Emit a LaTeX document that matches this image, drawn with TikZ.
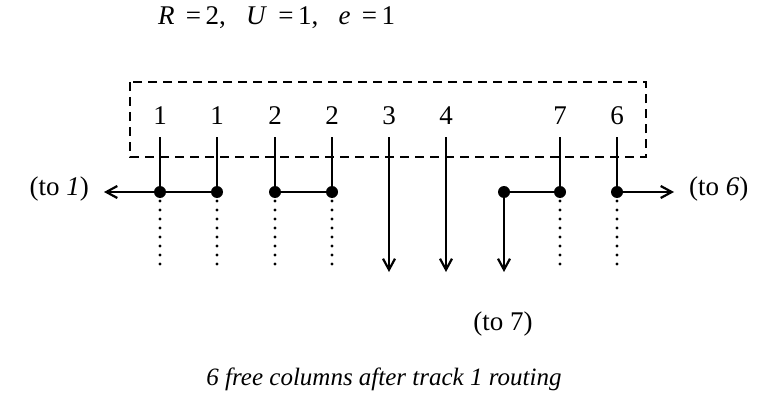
\documentclass[tikz,border=0pt]{standalone}
\usepackage{fontspec}
\setmainfont{Liberation Serif}
\usetikzlibrary{arrows.meta}
\begin{document}
\begin{tikzpicture}[x=1pt,y=-1pt,
  wire/.style={line width=2.6pt},
  feed/.style={line width=2.6pt,-{Straight Barb[length=11pt,width=12pt,line width=2.2pt]}},
  dotline/.style={line width=3.2pt,line cap=round,dash pattern=on 0pt off 9pt},
  frame/.style={line width=2.2pt,dash pattern=on 9pt off 6pt},
  pin/.style={circle,fill=black,inner sep=0pt,minimum size=12pt},
  lab/.style={inner sep=0pt,font=\fontsize{27}{32}\selectfont}]
\useasboundingbox (0,0) rectangle (761,396);

% channel boundary
\draw[frame] (130,82) rectangle (646,157);

% heading and caption
\node[lab,anchor=west] (head) at (158,18) {\textit{R}\, =\,2,\enspace\ \textit{U}\, =\,1,\enspace\ \textit{e}\, =\,1};
\node[lab,font=\fontsize{25}{30}\selectfont\itshape] (caption) at (384,379) {6 free columns after track 1 routing};

% terminal labels
\foreach \n/\t/\x in {c1/1/160, c2/1/217, c3/2/275, c4/2/332, c5/3/389, c6/4/446, c7/7/560, c8/6/617}{
  \node[lab] (t\n) at (\x,116) {\t};
  \coordinate (top\n) at (\x,137);
  \coordinate (pin\n) at (\x,192);
  \coordinate (end\n) at (\x,272);
}
\coordinate (pinx) at (504,192);
\coordinate (endx) at (504,272);

% off-page destinations
\node[lab,anchor=east] (to1) at (89,189) {(to \textit{1})};
\node[lab,anchor=west] (to6) at (689,189) {(to \textit{6})};
\node[lab] (to7) at (503,324) {(to 7)};
\coordinate (arrL) at (104,192);
\coordinate (arrR) at (674,192);

% vertical wires into the channel
\foreach \n in {c1,c2,c3,c4,c7,c8}{
  \draw[wire] (top\n) -- (pin\n);
  \draw[dotline] ([yshift=-9pt]pin\n) -- (end\n);
}
\draw[feed] (topc5) -- (endc5);
\draw[feed] (topc6) -- (endc6);

% horizontal track segments
\draw[feed] (pinc1) -- (arrL);
\draw[wire] (pinc1) -- (pinc2);
\draw[wire] (pinc3) -- (pinc4);
\draw[wire] (pinx) -- (pinc7);
\draw[feed] (pinx) -- (endx);
\draw[feed] (pinc8) -- (arrR);

% junction dots
\foreach \n in {c1,c2,c3,c4,c7,c8}{
  \node[pin] (d\n) at (pin\n) {};
}
\node[pin] (dx) at (pinx) {};
\end{tikzpicture}
\end{document}
